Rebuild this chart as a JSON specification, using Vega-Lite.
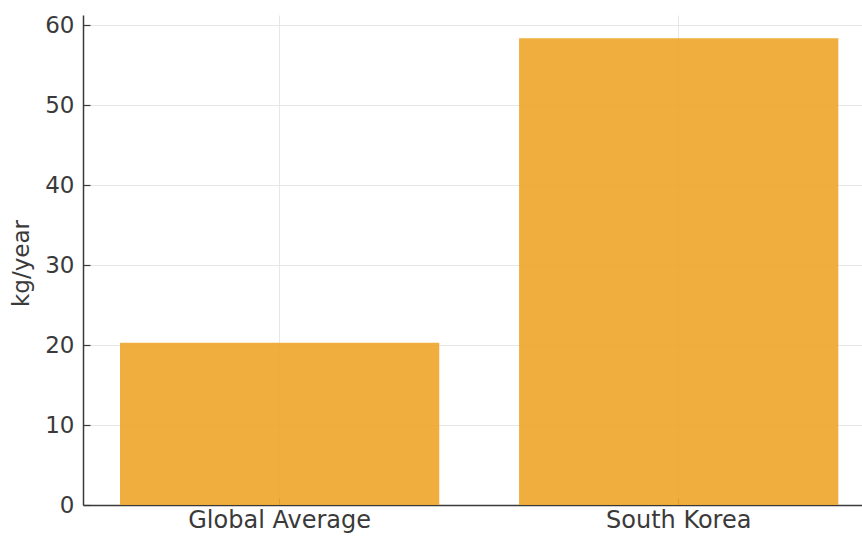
{
  "$schema": "https://vega.github.io/schema/vega-lite/v6.json",
  "width": 779,
  "height": 490,
  "autosize": {"type": "none"},
  "padding": {"left": 83, "top": 15, "right": 0, "bottom": 32},
  "background": "white",
  "config": {
    "view": {"stroke": null},
    "font": "DejaVu Sans",
    "axis": {
      "labelFont": "DejaVu Sans",
      "titleFont": "DejaVu Sans",
      "labelColor": "#3a3a3a",
      "titleColor": "#3a3a3a",
      "domainColor": "#3a3a3a",
      "domainWidth": 1.5,
      "tickColor": "#3a3a3a",
      "tickWidth": 1.2,
      "gridColor": "#e6e6e6",
      "gridWidth": 1
    }
  },
  "data": {
    "values": [
      {"region": "Global Average", "kg": 20.3},
      {"region": "South Korea", "kg": 58.4}
    ]
  },
  "mark": {"type": "bar", "color": "#EEA72C", "opacity": 0.92},
  "encoding": {
    "x": {
      "field": "region",
      "type": "nominal",
      "sort": null,
      "scale": {"paddingInner": 0.2, "paddingOuter": 0.076, "align": 0.61},
      "axis": {
        "title": null,
        "labelAngle": 0,
        "labelFontSize": 24,
        "labelLimit": 400,
        "tickSize": -7,
        "labelPadding": 10,
        "grid": true
      }
    },
    "y": {
      "field": "kg",
      "type": "quantitative",
      "scale": {"domain": [0, 61.3], "nice": false},
      "axis": {
        "title": "kg/year",
        "values": [0, 10, 20, 30, 40, 50, 60],
        "labelFontSize": 23,
        "titleFontSize": 23,
        "titleFontWeight": "normal",
        "tickSize": -7,
        "labelPadding": 16,
        "titleX": -50,
        "titleY": 248
      }
    }
  }
}
